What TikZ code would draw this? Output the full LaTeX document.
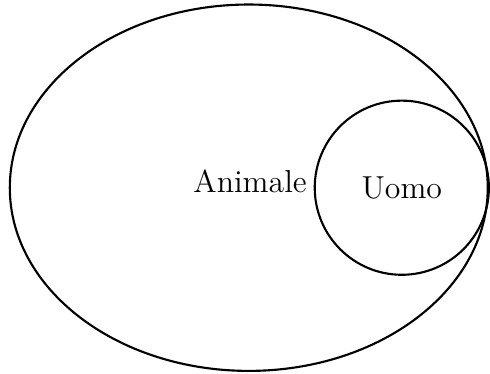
\documentclass[tikz,border=0pt]{standalone}
\usepackage{tikz}
\usetikzlibrary{positioning,shapes.geometric}
\tikzset{
  % insiemi
  setbig/.style={ellipse,draw=black,line width=0.8pt,inner sep=0pt,
                 minimum width=6.34cm,minimum height=4.86cm},
  setsmall/.style={circle,draw=black,line width=0.8pt,inner sep=0pt,
                   minimum size=2.31cm,font=\large},
  lbl/.style={font=\large,inner sep=1pt},
}
\begin{document}
\begin{tikzpicture}
\useasboundingbox (0,0) rectangle (6.5,4.96);
  \node[setbig] (animale) at (3.30,2.47) {};
  \node[setsmall] (uomo) at (5.33,2.47) {Uomo};
  \node[lbl,left=0.05cm of uomo,yshift=0.08cm] (nome) {Animale};
\end{tikzpicture}
\end{document}
